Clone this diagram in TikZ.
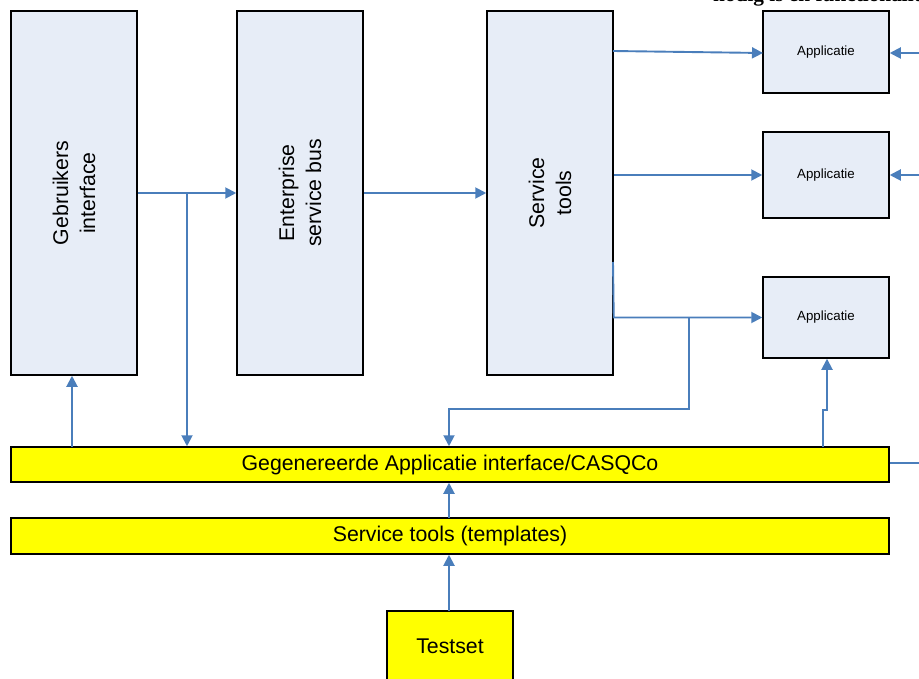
\documentclass[tikz,border=0pt]{standalone}
\usepackage{fontspec}
\setmainfont{Liberation Sans}
\newfontfamily\topserif{Liberation Serif}
\usetikzlibrary{arrows.meta,calc}
\definecolor{conblue}{HTML}{4A7EBB}
\definecolor{boxfill}{HTML}{E7EDF7}
\definecolor{barfill}{HTML}{FFFF00}
\tikzset{
  bigbox/.style={draw=black,line width=1.5pt,fill=boxfill,minimum width=126pt,minimum height=364pt,inner sep=0pt,font=\fontsize{21.3}{26}\selectfont,align=center},
  appbox/.style={draw=black,line width=1.5pt,fill=boxfill,minimum width=126pt,inner sep=0pt,font=\fontsize{13.3}{16}\selectfont},
  barbox/.style={draw=black,line width=1.5pt,fill=barfill,minimum width=878pt,inner sep=0pt,font=\fontsize{21.3}{26}\selectfont},
  conn/.style={draw=conblue,line width=1.9pt,-{Triangle[length=11pt,width=11pt]}},
  plain/.style={draw=conblue,line width=1.9pt}
}
\begin{document}
\begin{tikzpicture}[x=1pt,y=-1pt]
\useasboundingbox (0,0) rectangle (919,679);
\clip (0,0) rectangle (919,679);
\node[font=\topserif\bfseries\fontsize{21.3}{26}\selectfont,anchor=base west,inner sep=0pt] (toptext) at (713,2) {nodig is en functionaliteit};
\node[bigbox] (gi) at (74,193) {};
\node[rotate=90,font=\fontsize{21.3}{27}\selectfont,align=center] (gitxt) at (gi.center) {Gebruikers\\interface};
\node[bigbox] (esb) at (300,193) {};
\node[rotate=90,font=\fontsize{21.3}{27}\selectfont,align=center] (esbtxt) at (esb.center) {Enterprise\\service bus};
\node[bigbox] (st) at (550,193) {};
\node[rotate=90,font=\fontsize{21.3}{27}\selectfont,align=center] (sttxt) at (st.center) {Service\\tools};
\node[appbox,minimum height=82pt] (app1) at (826,52) {Applicatie};
\node[appbox,minimum height=86pt] (app2) at (826,175) {Applicatie};
\node[appbox,minimum height=81pt] (app3) at (826,317.5) {Applicatie};
\node[barbox,minimum height=35pt] (gen) at (450,464.5) {Gegenereerde Applicatie interface/CASQCo};
\node[barbox,minimum height=36pt] (tmpl) at (450,536) {Service tools (templates)};
\node[draw=black,line width=1.5pt,fill=barfill,minimum width=126pt,minimum height=76pt,inner sep=0pt] (test) at (450,649) {};
\node[font=\fontsize{21.3}{26}\selectfont] (testtxt) at (450,646) {Testset};
% coordinates
\coordinate (b1) at (187,193);
\coordinate (s1) at (613,51);
\coordinate (a1) at (763,53);
\coordinate (s3) at (613,262);
\coordinate (b2) at (689,318);
\coordinate (b2d) at (689,409);
\coordinate (b2l) at (449,409);
\coordinate (g1) at (72,447);
\coordinate (g2) at (823,447);
\coordinate (g2a) at (823,410);
\coordinate (g2b) at (827,410);
\coordinate (r0) at (919,463);
\coordinate (r1) at (919,53);
\coordinate (r2) at (919,175);
\coordinate (c1) at (449,518);
\coordinate (c2) at (449,611);
% connectors
\draw[conn] (gi.east) -- (esb.west);
\draw[conn] (b1) -- (b1 |- gen.north);
\draw[conn] (esb.east) -- (st.west);
\draw[conn] (s1) -- (a1);
\draw[conn] (st.east |- app2.west) -- (app2.west);
\draw[conn] (s3) -- (st.east |- app3.west) -- (app3.west);
\draw[conn] (b2) -- (b2d) -- (b2l) -- (b2l |- gen.north);
\draw[conn] (g1) -- (g1 |- gi.south);
\draw[conn] (g2) -- (g2a) -- (g2b) -- (g2b |- app3.south);
\draw[plain] (gen.east |- r0) -- (r0);
\draw[conn] (r1) -- (app1.east |- r1);
\draw[conn] (r2) -- (app2.east |- r2);
\draw[conn] (c1) -- (c1 |- gen.south);
\draw[conn] (c2) -- (c2 |- tmpl.south);
\end{tikzpicture}
\end{document}
